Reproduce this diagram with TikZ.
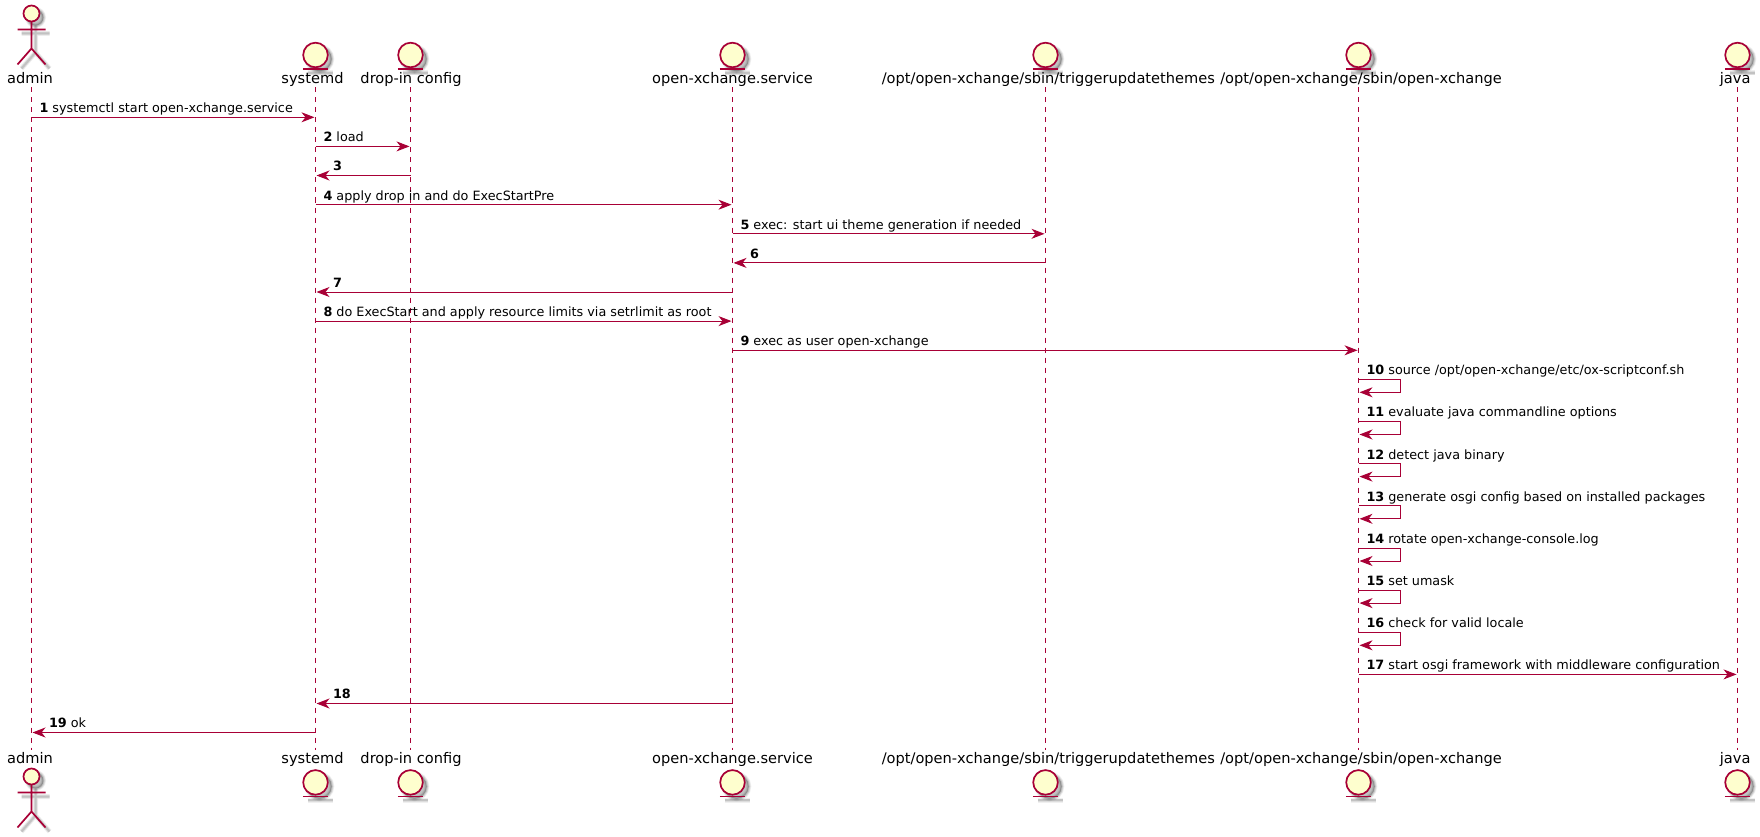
\documentclass[tikz,border=0pt]{standalone}
\usepackage{fontspec}
\setmainfont{DejaVu Sans}
\usetikzlibrary{arrows.meta}
\definecolor{pl}{HTML}{A80036}
\definecolor{pf}{HTML}{FEFECE}
\tikzset{
  life/.style={draw=pl,line width=1pt,dash pattern=on 5pt off 5pt},
  msgline/.style={draw=pl,line width=1pt,-{Stealth[length=13pt,width=10pt,inset=4pt,fill=pl]},shorten >=1pt},
  ptext/.style={inner sep=0pt,anchor=base,font=\fontsize{14.6}{14.6}\selectfont,text=black},
  mtext/.style={inner sep=0pt,anchor=base west,font=\fontsize{12.78}{13}\selectfont,text=black},
  figline/.style={draw=pl,line width=1.7pt}
}
% entity figure: centre x, circle centre y
\newcommand{\entityfig}[2]{%
  \foreach \w/\o in {5/0.06,3.5/0.08,2/0.12}{%
    \draw[black,opacity=\o,line width=\w pt,fill=black] (#1+4,#2+4) circle[radius=12.3pt];
    \draw[black,opacity=\o,line width=\w pt] (#1-8,#2+18) -- (#1+17,#2+18);
  }%
  \draw[figline,fill=pf] (#1,#2) circle[radius=12.3pt];
  \draw[figline] (#1-12.7,#2+14) -- (#1+12.7,#2+14);
}
% actor figure: centre x, head centre y
\newcommand{\actorfig}[2]{%
  \foreach \w/\o in {5/0.06,3.5/0.08,2/0.12}{%
    \draw[black,opacity=\o,line width=\w pt,fill=black] (#1+4,#2+4) circle[radius=8pt];
    \draw[black,opacity=\o,line width=\w pt] (#1+4,#2+12) -- (#1+4,#2+39) (#1-10,#2+20) -- (#1+18,#2+20)
      (#1-10,#2+55) -- (#1+4,#2+39) -- (#1+18,#2+55);
  }%
  \draw[figline,fill=pf] (#1,#2) circle[radius=8pt];
  \draw[figline] (#1,#2+8) -- (#1,#2+35) (#1-14,#2+16) -- (#1+14,#2+16)
    (#1-14,#2+51) -- (#1,#2+35) -- (#1+14,#2+51);
}
\newcommand{\msgR}[5]{% from to y n text
  \draw[msgline] (#1 |- 0,#3) -- (#2 |- 0,#3);
  \node[mtext] (t#4) at ([xshift=7.8pt]#1 |- 0,#3-4.6) {\textbf{#4} #5};
}
\newcommand{\msgL}[5]{%
  \draw[msgline] (#1 |- 0,#3) -- (#2 |- 0,#3);
  \node[mtext] (t#4) at ([xshift=17.3pt]#2 |- 0,#3-4.6) {\textbf{#4}\ifx&#5&\else{} #5\fi};
}
\newcommand{\msgS}[4]{% on, top y, n, text
  \draw[msgline] (#1 |- 0,#2) -- ([xshift=42pt]#1 |- 0,#2) -- ([xshift=42pt]#1 |- 0,#2+13) -- (#1 |- 0,#2+13);
  \node[mtext] (t#3) at ([xshift=7.8pt]#1 |- 0,#2-4.6) {\textbf{#3} #4};
}
\begin{document}
\begin{tikzpicture}[x=1pt,y=-1pt]
\useasboundingbox (0,0) rectangle (1760,837);
\fill[white] (0,0) rectangle (1760,837);
% lifeline ends
\coordinate (admin) at (31.5,87.5);      \coordinate (adminB) at (31.5,750);
\coordinate (systemd) at (315.5,87.5);   \coordinate (systemdB) at (315.5,750);
\coordinate (dropin) at (410.5,87.5);    \coordinate (dropinB) at (410.5,750);
\coordinate (service) at (732.5,87.5);   \coordinate (serviceB) at (732.5,750);
\coordinate (trigger) at (1045.5,87.5);  \coordinate (triggerB) at (1045.5,750);
\coordinate (oxbin) at (1358.5,87.5);    \coordinate (oxbinB) at (1358.5,750);
\coordinate (java) at (1737.5,87.5);     \coordinate (javaB) at (1737.5,750);
\foreach \p in {admin,systemd,dropin,service,trigger,oxbin,java}{\draw[life] (\p) -- (\p B);}
% participants
\actorfig{31.5}{13.5}\actorfig{31.5}{776.5}
\foreach \x in {315.5,410.5,732.5,1045.5,1358.5,1737.5}{\entityfig{\x}{55}\entityfig{\x}{782.4}}
\node[ptext] (l1) at (30,83.6) {admin};
\node[ptext] (l2) at (312.5,83.6) {systemd};
\node[ptext] (l3) at (411,83.6) {drop-in config};
\node[ptext] (l4) at (732.5,83.6) {open-xchange.service};
\node[ptext] (l5) at (1048.3,83.6) {/opt/open-xchange/sbin/triggerupdatethemes};
\node[ptext] (l6) at (1361,83.6) {/opt/open-xchange/sbin/open-xchange};
\node[ptext] (l7) at (1735.2,83.6) {java};
\node[ptext] (b1) at (30,763.2) {admin};
\node[ptext] (b2) at (312.5,763.2) {systemd};
\node[ptext] (b3) at (411,763.2) {drop-in config};
\node[ptext] (b4) at (732.5,763.2) {open-xchange.service};
\node[ptext] (b5) at (1048.3,763.2) {/opt/open-xchange/sbin/triggerupdatethemes};
\node[ptext] (b6) at (1361,763.2) {/opt/open-xchange/sbin/open-xchange};
\node[ptext] (b7) at (1735.2,763.2) {java};
% messages
\msgR{admin}{systemd}{117.3}{1}{systemctl start open-xchange.service}
\msgR{systemd}{dropin}{146.4}{2}{load}
\msgL{dropin}{systemd}{175.5}{3}{}
\msgR{systemd}{service}{204.7}{4}{apply drop in and do ExecStartPre}
\msgR{service}{trigger}{233.8}{5}{exec: start ui theme generation if needed}
\msgL{trigger}{service}{262.9}{6}{}
\msgL{service}{systemd}{292}{7}{}
\msgR{systemd}{service}{321.1}{8}{do ExecStart and apply resource limits via setrlimit as root}
\msgR{service}{oxbin}{350.3}{9}{exec as user open-xchange}
\msgS{oxbin}{379.3}{10}{source /opt/open-xchange/etc/ox-scriptconf.sh}
\msgS{oxbin}{421.5}{11}{evaluate java commandline options}
\msgS{oxbin}{463.6}{12}{detect java binary}
\msgS{oxbin}{505.8}{13}{generate osgi config based on installed packages}
\msgS{oxbin}{548}{14}{rotate open-xchange-console.log}
\msgS{oxbin}{590.1}{15}{set umask}
\msgS{oxbin}{632.3}{16}{check for valid locale}
\msgR{oxbin}{java}{674.4}{17}{start osgi framework with middleware configuration}
\msgL{service}{systemd}{703.5}{18}{}
\msgL{systemd}{admin}{732.5}{19}{ok}
\end{tikzpicture}
\end{document}
